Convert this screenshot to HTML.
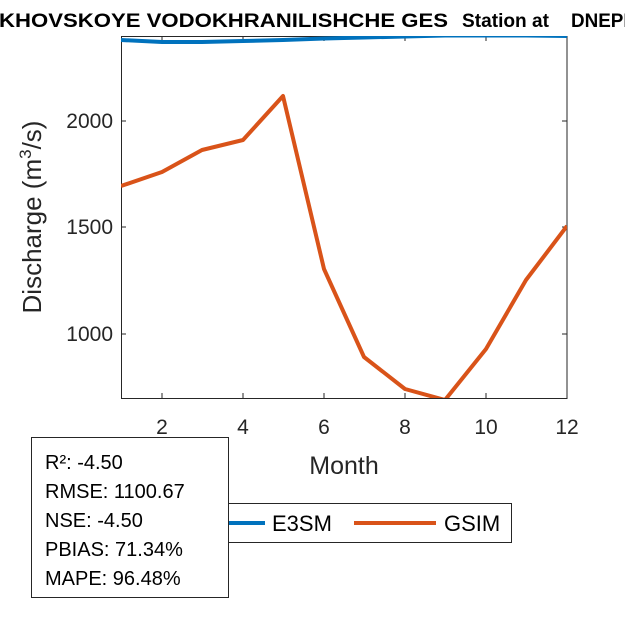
<!DOCTYPE html>
<html><head><meta charset="utf-8"><style>body{margin:0;background:#fff}svg{display:block}</style></head><body>
<svg width="625" height="625" viewBox="0 0 625 625" xmlns="http://www.w3.org/2000/svg" font-family="Liberation Sans, sans-serif">
<rect width="625" height="625" fill="#fff"/>
<g font-size="19" font-weight="bold" fill="#000">
<text x="-1" y="27" textLength="449" lengthAdjust="spacingAndGlyphs">KHOVSKOYE VODOKHRANILISHCHE GES</text>
<text x="462" y="27" textLength="87" lengthAdjust="spacingAndGlyphs">Station at</text>
<text x="571" y="27" textLength="66" lengthAdjust="spacingAndGlyphs">DNEPR</text>
</g>
<defs><clipPath id="c"><rect x="121" y="36" width="446" height="362"/></clipPath></defs>
<rect x="121.5" y="36.5" width="445.5" height="362" fill="#fff" stroke="#262626" stroke-width="1"/>
<g stroke="#262626" stroke-width="1">
<line x1="162" y1="398" x2="162" y2="393"/><line x1="243" y1="398" x2="243" y2="393"/><line x1="324" y1="398" x2="324" y2="393"/><line x1="405" y1="398" x2="405" y2="393"/><line x1="486" y1="398" x2="486" y2="393"/>
<line x1="162" y1="36" x2="162" y2="41"/><line x1="243" y1="36" x2="243" y2="41"/><line x1="324" y1="36" x2="324" y2="41"/><line x1="405" y1="36" x2="405" y2="41"/><line x1="486" y1="36" x2="486" y2="41"/>
<line x1="121" y1="121" x2="126" y2="121"/><line x1="121" y1="227" x2="126" y2="227"/><line x1="121" y1="334" x2="126" y2="334"/>
<line x1="567" y1="121" x2="562" y2="121"/><line x1="567" y1="227" x2="562" y2="227"/><line x1="567" y1="334" x2="562" y2="334"/>
</g>
<g font-size="21" fill="#262626" text-anchor="middle">
<text x="162" y="434">2</text><text x="243" y="434">4</text><text x="324" y="434">6</text><text x="405" y="434">8</text><text x="486" y="434">10</text><text x="567" y="434">12</text>
</g>
<g font-size="21" fill="#262626" text-anchor="end">
<text x="113" y="128">2000</text><text x="113" y="234">1500</text><text x="113" y="341">1000</text>
</g>
<text x="344" y="474" font-size="25" fill="#262626" text-anchor="middle">Month</text>
<text transform="translate(41,217) rotate(-90)" font-size="26" fill="#262626" text-anchor="middle">Discharge (m<tspan font-size="17" dy="-10">3</tspan><tspan dy="10">/s)</tspan></text>
<g clip-path="url(#c)" fill="none" stroke-width="4" stroke-linejoin="round">
<polyline stroke="#0072BD" points="121,40 162,42 202,42 243,41 283,40 324,38.5 364,37.5 405,36.5 445,35.5 486,35.5 526,35.5 567,36"/>
<polyline stroke="#D95319" points="121,186 162,172 202,150 243,140 283,96 324,269 364,357 405,389 445,400 486,349 526,280 567,226"/>
</g>
<rect x="210.5" y="503.5" width="301" height="39" fill="#fff" stroke="#262626"/>
<line x1="228" y1="523" x2="265" y2="523" stroke="#0072BD" stroke-width="4"/>
<text x="272" y="531" font-size="22" fill="#000">E3SM</text>
<line x1="354" y1="523" x2="436" y2="523" stroke="#D95319" stroke-width="4"/>
<text x="444" y="531" font-size="22" fill="#000">GSIM</text>
<rect x="31.5" y="437.5" width="197" height="160" fill="#fff" stroke="#262626"/>
<g font-size="20" fill="#000">
<text x="45" y="469">R²: -4.50</text>
<text x="45" y="498">RMSE: 1100.67</text>
<text x="45" y="527">NSE: -4.50</text>
<text x="45" y="556">PBIAS: 71.34%</text>
<text x="45" y="585">MAPE: 96.48%</text>
</g>
</svg>
</body></html>
